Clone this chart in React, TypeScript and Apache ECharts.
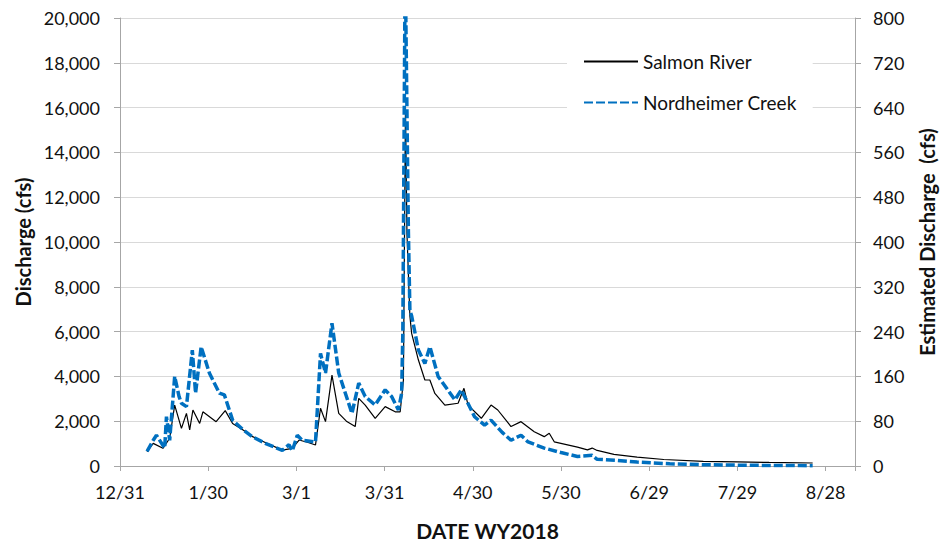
import React, { useEffect, useRef } from "react";
import * as echarts from "echarts";

// Days since 12/31/2017 and discharge readings
const salmonDays = [
  9.2, 11.3, 14.6, 16.9, 18.6, 20.9, 22.6, 23.7, 24.8, 27.1, 28.2, 32.7, 35.8, 38.3, 42, 45.1, 49.6, 55.2, 58.6,
  60.9, 64, 66.5, 68.2, 69.9, 72.1, 74.4, 77, 80, 81.2, 83.4, 86.8, 90.2, 93.6, 95.3, 96.4, 97.1, 97.6, 98.6,
  99.2, 101.5, 103.7, 105.4, 107.1, 110.5, 115, 117, 118.4, 122.9, 126.2, 128.5, 133, 136.4, 140.9, 144.3, 146,
  147.7, 155.6, 159, 160.6, 162.3, 168, 175.9, 185, 198.4, 210, 220.8, 235.6,
];
const salmonCfs = [
  640, 1010, 790, 1240, 2720, 1680, 2350, 1610, 2500, 1900, 2420, 1980, 2470, 1900, 1600, 1310, 1040, 710, 790,
  1160, 1050, 940, 2580, 1980, 4060, 2350, 2000, 1760, 3020, 2720, 2130, 2650, 2420, 2420, 3840, 16000, 10400, 6700,
  5920, 4730, 3840, 3840, 3240, 2720, 2800, 3470, 2720, 2130, 2720, 2500, 1760, 1980, 1530, 1310, 1460,
  1080, 846, 720, 800, 695, 520, 400, 290, 205, 180, 160, 135,
];

const nordDays = [
  9.2, 11.3, 12.4, 15.2, 15.8, 16.9, 18.6, 20.1, 20.9, 22.6, 24.6, 25.7, 27.6, 30.4, 33.8, 35.5, 38.3, 42, 45.1,
  49.6, 55.2, 57.5, 58.6, 60.3, 62, 66.5, 68.2, 69.9, 72.1, 74.4, 78.9, 81.2, 83.4, 86.8, 90.2, 92.4, 94.7, 95.8,
  96.2, 97, 98.1, 98.6, 99.2, 101.5, 103.7, 105.4, 108.2, 113.9, 116.1, 120.6, 124, 126.2, 130, 133, 136.4, 138.8,
  144.3, 150, 155.6, 160.6, 162.3, 169, 175.9, 187, 198.4, 215, 235.6,
];
const nordCfs = [
  26, 46, 55, 32, 88, 46, 160, 124, 112, 106, 207, 130, 213, 166, 130, 127, 82, 64, 52,
  40, 28, 38, 27, 55, 46, 43, 201, 166, 255, 166, 94, 148, 124, 109, 136, 124, 100, 130,
  240, 900, 417, 278, 268, 207, 183, 213, 160, 118, 136, 88, 73, 82, 60, 46, 55, 43,
  32, 24, 17, 19, 12, 10, 7, 4, 2.3, 1.2, 0.5,
];

const xTickStep = 30;
const leftTicks = { min: 0, max: 20000, interval: 2000 };
const rightTicks = { min: 0, max: 800, interval: 80 };
const BASE = Date.UTC(2017, 11, 31);

const FONT = "Lato";

export default function App() {
  const ref = useRef<HTMLDivElement>(null);
  useEffect(() => {
    document.body.style.margin = "0";
    const chart = echarts.init(ref.current!, null, { renderer: "svg" });
    const axisLineColor = "#a6a6a6";
    chart.setOption({
      animation: false,
      backgroundColor: "#ffffff",
      textStyle: { fontFamily: FONT },
      grid: { left: 120, right: 85, top: 18, bottom: 79 },
      legend: {
        orient: "vertical",
        left: 567,
        top: 32,
        padding: [20, 16, 20, 16],
        backgroundColor: "#ffffff",
        itemWidth: 54,
        itemHeight: 20,
        itemGap: 22,
        itemStyle: { opacity: 0 },
        textStyle: { fontFamily: FONT, fontSize: 19, color: "#111" },
        data: ["Salmon River", "Nordheimer Creek"],
      },
      xAxis: {
        type: "value",
        min: 0,
        max: 250,
        interval: xTickStep,
        name: "DATE WY2018",
        nameLocation: "middle",
        nameGap: 54,
        nameTextStyle: { fontFamily: FONT, fontWeight: "bold", fontSize: 21, color: "#111" },
        axisLine: { show: true, lineStyle: { color: axisLineColor } },
        axisTick: { show: true, length: 5, lineStyle: { color: axisLineColor } },
        splitLine: { show: false },
        axisLabel: {
          margin: 17,
          fontSize: 18,
          color: "#111",
          fontFamily: FONT,
          formatter: (v: number) => {
            if (v % xTickStep !== 0) return "";
            const d = new Date(BASE + v * 86400000);
            return `${d.getUTCMonth() + 1}/${d.getUTCDate()}`;
          },
        },
      },
      yAxis: [
        {
          type: "value",
          position: "left",
          ...leftTicks,
          name: "Discharge (cfs)",
          nameLocation: "middle",
          nameRotate: 90,
          nameGap: 84,
          nameTextStyle: { fontFamily: FONT, fontWeight: "bold", fontSize: 20, color: "#111" },
          axisLine: { show: true, lineStyle: { color: axisLineColor } },
          axisTick: { show: true, length: 6, lineStyle: { color: axisLineColor } },
          splitLine: { show: true, lineStyle: { color: "#d9d9d9", width: 1 } },
          axisLabel: {
            margin: 20,
            fontSize: 18,
            color: "#111",
            fontFamily: FONT,
            formatter: (v: number) => v.toLocaleString("en-US"),
          },
        },
        {
          type: "value",
          position: "right",
          ...rightTicks,
          name: "Estimated Discharge  (cfs)",
          nameLocation: "middle",
          nameRotate: 90,
          nameGap: 62,
          nameTextStyle: { fontFamily: FONT, fontWeight: "bold", fontSize: 20, color: "#111" },
          axisLine: { show: true, lineStyle: { color: axisLineColor } },
          axisTick: { show: true, length: 6, lineStyle: { color: axisLineColor } },
          splitLine: { show: false },
          axisLabel: { margin: 18, fontSize: 18, color: "#111", fontFamily: FONT },
        },
      ],
      series: [
        {
          name: "Salmon River",
          type: "line",
          yAxisIndex: 0,
          symbol: "none",
          clip: true,
          data: salmonDays.map((d, i) => [d, salmonCfs[i]]),
          lineStyle: { color: "#000000", width: 1.2 },
          itemStyle: { color: "#000000" },
        },
        {
          name: "Nordheimer Creek",
          type: "line",
          yAxisIndex: 1,
          symbol: "none",
          clip: true,
          data: nordDays.map((d, i) => [d, nordCfs[i]]),
          lineStyle: { color: "#0070C0", width: 3.5, type: [9, 3] },
          itemStyle: { color: "#0070C0" },
        },
      ],
    });
    return () => chart.dispose();
  }, []);
  return <div ref={ref} style={{ width: 945, height: 546 }} />;
}
